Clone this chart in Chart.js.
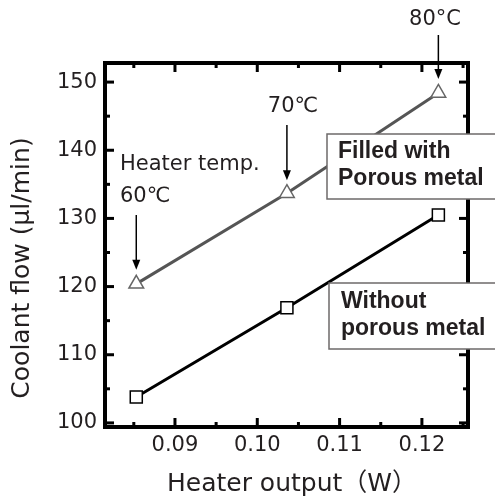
<!DOCTYPE html>
<html>
<head>
<meta charset="utf-8">
<script src="https://cdn.jsdelivr.net/npm/chart.js@4.4.0/dist/chart.umd.min.js"></script>
<style>
  html, body { margin: 0; padding: 0; background: #fff; }
  canvas { display: block; }
</style>
</head>
<body>
<canvas id="flowChart" width="495" height="499"></canvas>
<script>
// values
const heaterOutput = [0.0853, 0.1036, 0.1220];
const flowPorous = [120.4, 133.7, 148.4];
const flowNoPorous = [103.8, 116.9, 130.5];
const heaterTemps = ['60℃', '70℃', '80°C'];
const xTickValues = [0.09, 0.10, 0.11, 0.12];
const xMinorValues = [0.085, 0.095, 0.105, 0.115, 0.125];
const yTickValues = [100, 110, 120, 130, 140, 150];
const yMinorValues = [105, 115, 125, 135, 145];

const textColor = '#231f20';
const latin = '"DejaVu Sans", "Noto Sans CJK JP", sans-serif';
const boxFont = '"Liberation Sans", "Noto Sans CJK JP", sans-serif';

// frame with inward ticks, axis titles, arrows and the two boxed labels
const frameAndNotes = {
  id: 'frameAndNotes',
  afterDatasetsDraw(chart) {
    const { ctx, chartArea: a, scales: { x, y } } = chart;
    ctx.save();
    ctx.fillStyle = '#000';
    // inward tick marks on all four sides
    const xTick = (vals, len) => vals.forEach(v => {
      const px = x.getPixelForValue(v);
      ctx.fillRect(px - 1.5, a.bottom - len, 3, len);
      ctx.fillRect(px - 1.5, a.top, 3, len);
    });
    const yTick = (vals, len) => vals.forEach(v => {
      const py = y.getPixelForValue(v);
      ctx.fillRect(a.left, py - 1.5, len, 3);
      ctx.fillRect(a.right - len, py - 1.5, len, 3);
    });
    xTick(xTickValues, 9); xTick(xMinorValues, 5);
    yTick(yTickValues, 9); yTick(yMinorValues, 5);
    // frame
    const w = 4;
    ctx.fillRect(a.left - w / 2, a.top - w / 2, a.right - a.left + w, w);
    ctx.fillRect(a.left - w / 2, a.bottom - w / 2, a.right - a.left + w, w);
    ctx.fillRect(a.left - w / 2, a.top - w / 2, w, a.bottom - a.top + w);
    ctx.fillRect(a.right - w / 2, a.top - w / 2, w, a.bottom - a.top + w);

    // temperature arrows pointing at the porous-metal points
    const arrow = (px, y0, y1) => {
      ctx.strokeStyle = '#000';
      ctx.fillStyle = '#000';
      ctx.lineWidth = 1.5;
      ctx.beginPath(); ctx.moveTo(px, y0); ctx.lineTo(px, y1 - 8); ctx.stroke();
      ctx.beginPath();
      ctx.moveTo(px, y1); ctx.lineTo(px - 4, y1 - 10); ctx.lineTo(px + 4, y1 - 10);
      ctx.closePath(); ctx.fill();
    };
    const pts = heaterOutput.map((v, i) => ({
      px: x.getPixelForValue(v), py: y.getPixelForValue(flowPorous[i])
    }));
    arrow(pts[0].px, 215, pts[0].py - 14);
    arrow(pts[1].px, 125, pts[1].py - 13);
    arrow(pts[2].px, 35, pts[2].py - 14);

    ctx.fillStyle = textColor;
    ctx.font = '21px ' + latin;
    ctx.textBaseline = 'middle';
    ctx.textAlign = 'left';
    ctx.fillText('Heater temp.', 120, 165);
    ctx.fillText(heaterTemps[0], 120, 197);
    ctx.textAlign = 'center';
    ctx.fillText(heaterTemps[1], 293, 107);
    ctx.fillText(heaterTemps[2], 435, 20);

    // axis titles
    ctx.font = '25px ' + latin;
    ctx.fillText('Heater output（W）', 292, 484);
    ctx.save();
    ctx.translate(22, 268);
    ctx.rotate(-Math.PI / 2);
    ctx.fillText('Coolant flow (μl/min)', 0, 0);
    ctx.restore();

    // boxed series labels
    const box = (bx, by, bh, lines, tx, ty) => {
      ctx.fillStyle = '#fff';
      ctx.fillRect(bx, by, 495 - bx + 5, bh);
      ctx.strokeStyle = '#6d6a6a';
      ctx.lineWidth = 1.5;
      ctx.strokeRect(bx, by, 495 - bx + 5, bh);
      ctx.fillStyle = textColor;
      ctx.font = 'bold 23px ' + boxFont;
      ctx.textAlign = 'left';
      lines.forEach((t, i) => ctx.fillText(t, tx, ty + i * 27));
    };
    box(327, 134, 65, ['Filled with', 'Porous metal'], 338, 152);
    box(329, 283, 66, ['Without', 'porous metal'], 341, 302);
    ctx.restore();
  }
};

document.addEventListener('DOMContentLoaded', function () {
  const ctx = document.getElementById('flowChart').getContext('2d');
  new Chart(ctx, {
    type: 'scatter',
    data: {
      datasets: [{
        label: 'Filled with Porous metal',
        data: heaterOutput.map((v, i) => ({ x: v, y: flowPorous[i] })),
        showLine: true,
        borderColor: '#555',
        borderWidth: 3,
        pointStyle: 'triangle',
        pointRadius: 8.5,
        pointBackgroundColor: '#fff',
        pointBorderColor: '#666',
        pointBorderWidth: 1.5
      }, {
        label: 'Without porous metal',
        data: heaterOutput.map((v, i) => ({ x: v, y: flowNoPorous[i] })),
        showLine: true,
        borderColor: '#000',
        borderWidth: 3,
        pointStyle: 'rect',
        pointRadius: 8.5,
        pointBackgroundColor: '#fff',
        pointBorderColor: '#000',
        pointBorderWidth: 1.5
      }]
    },
    options: {
      responsive: false,
      animation: false,
      layout: { padding: { top: 63, right: 27, left: 0, bottom: 0 } },
      plugins: { legend: { display: false }, tooltip: { enabled: false } },
      scales: {
        x: {
          type: 'linear',
          min: 0.0815,
          max: 0.1256,
          afterFit: s => { s.height = 72; },
          afterBuildTicks: s => { s.ticks = xTickValues.map(v => ({ value: v })); },
          grid: { display: false, drawTicks: false },
          border: { display: false },
          ticks: {
            padding: 6,
            color: textColor,
            font: { family: latin, size: 21 },
            callback: v => v.toFixed(2)
          },
          title: { display: false }
        },
        y: {
          min: 99.4,
          max: 152.8,
          afterFit: s => { s.width = 105; },
          afterBuildTicks: s => { s.ticks = yTickValues.map(v => ({ value: v })); },
          grid: { display: false, drawTicks: false },
          border: { display: false },
          ticks: {
            padding: 8,
            color: textColor,
            font: { family: latin, size: 21 }
          },
          title: { display: false }
        }
      }
    },
    plugins: [frameAndNotes]
  });
});
</script>
</body>
</html>
